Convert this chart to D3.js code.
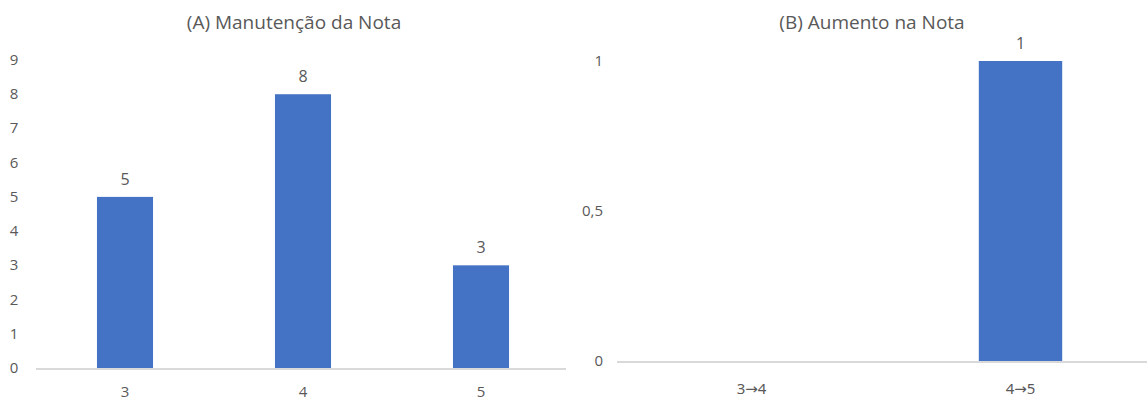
<!DOCTYPE html>
<html><head><meta charset="utf-8">
<script src="https://cdn.jsdelivr.net/npm/d3@7"></script>
<style>body{margin:0;background:#fff;} text{font-family:"Open Sans",sans-serif;fill:#595959;}</style>
</head><body><svg id="c" width="1147" height="401"></svg>
<script>
const catsA = ["3","4","5"];
const valsA = [5,8,3];
const ticksA = [0,1,2,3,4,5,6,7,8,9];
const titleA = "(A) Manutenção da Nota";
const catsB = ["3→4","4→5"];
const valsB = [0,1];
const ticksB = [0,0.5,1];
const tickLabelsB = ["0","0,5","1"];
const titleB = "(B) Aumento na Nota";

const svg = d3.select("#c");
const color = "#4472C4";

function panel(cfg){
  const g = svg.append("g");
  const data = cfg.cats.map((c,i)=>({c, v:cfg.vals[i]}));
  const x = d3.scaleBand().domain(cfg.cats).range(cfg.xr).paddingInner(cfg.pad).paddingOuter(cfg.pad/2);
  const y = d3.scaleLinear().domain(cfg.ydom).range(cfg.yr);
  g.append("text").attr("x",cfg.titleX).attr("y",29).attr("text-anchor","middle").style("font-size","19px").text(cfg.title);
  g.append("line").attr("x1",cfg.lineX[0]).attr("x2",cfg.lineX[1]).attr("y1",y(0)+1).attr("y2",y(0)+1).attr("stroke","#d9d9d9").attr("stroke-width",2);
  g.selectAll("rect").data(data).join("rect")
    .attr("x",d=>x(d.c)).attr("width",x.bandwidth())
    .attr("y",d=>y(d.v)).attr("height",d=>y(0)-y(d.v)).attr("fill",color);
  g.selectAll("text.v").data(data.filter(d=>d.v>0)).join("text").attr("class","v")
    .attr("x",d=>x(d.c)+x.bandwidth()/2).attr("y",d=>y(d.v)-12)
    .attr("text-anchor","middle").style("font-size","16px").text(d=>d.v);
  g.selectAll("text.yt").data(cfg.ticks).join("text").attr("class","yt")
    .attr("x",cfg.tickX).attr("y",d=>y(d)+5).attr("text-anchor",cfg.tickAnchor)
    .style("font-size","15px").text((d,i)=>cfg.tickLabels[i]);
  g.selectAll("text.xt").data(cfg.cats).join("text").attr("class","xt")
    .attr("x",d=>x(d)+x.bandwidth()/2).attr("y",cfg.xLabY).attr("text-anchor","middle")
    .style("font-size","15px").style("font-family",cfg.xFont||null).text(d=>d);
}

panel({cats:catsA, vals:valsA, ticks:ticksA, tickLabels:ticksA.map(String), title:titleA,
  xr:[36,570], pad:0.685, ydom:[0,9], yr:[368,60], titleX:294, lineX:[36,566],
  tickX:14, tickAnchor:"middle", xLabY:397});
panel({cats:catsB, vals:valsB, ticks:ticksB, tickLabels:tickLabelsB, title:titleB,
  xr:[617,1155], pad:0.69, ydom:[0,1], yr:[361,61], titleX:872, lineX:[617,1147],
  tickX:603, tickAnchor:"end", xLabY:394, xFont:"'Noto Sans','DejaVu Sans',sans-serif"});
</script></body></html>
